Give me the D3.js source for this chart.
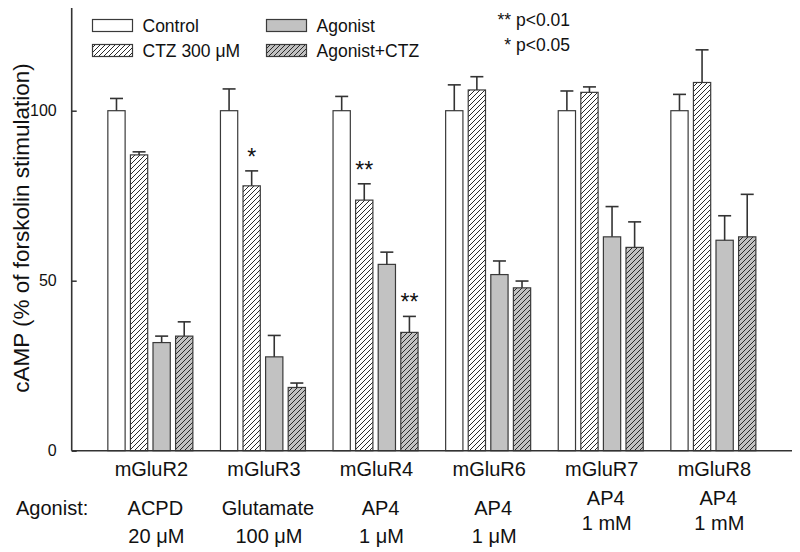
<!DOCTYPE html>
<html>
<head>
<meta charset="utf-8">
<script src="https://cdn.jsdelivr.net/npm/d3@7/dist/d3.min.js"></script>
<style>
  html, body { margin: 0; padding: 0; background: #fff; }
  svg { display: block; font-family: "Liberation Sans", Arial, sans-serif; }
</style>
</head>
<body>
<svg id="chart" width="800" height="552"></svg>
<script>
// ---- data ----
const categories = ["mGluR2", "mGluR3", "mGluR4", "mGluR6", "mGluR7", "mGluR8"];
const agonists = ["ACPD", "Glutamate", "AP4", "AP4", "AP4", "AP4"];
const concentrations = ["20 \u03BCM", "100 \u03BCM", "1 \u03BCM", "1 \u03BCM", "1 mM", "1 mM"];
const seriesNames = ["Control", "CTZ 300 \u03BCM", "Agonist", "Agonist+CTZ"];

const controlValues = [100, 100, 100, 100, 100, 100];
const controlErr    = [3.6, 6.4, 4.2, 7.6, 5.8, 4.8];
const ctzValues     = [87.0, 77.9, 73.7, 106.1, 105.4, 108.3];
const ctzErr        = [0.9, 4.4, 4.8, 3.9, 1.6, 9.6];
const agonistValues = [31.8, 27.6, 54.8, 51.8, 62.9, 61.9];
const agonistErr    = [1.9, 6.3, 3.6, 4.0, 8.9, 7.2];
const agCtzValues   = [33.7, 18.6, 34.8, 47.9, 59.8, 62.9];
const agCtzErr      = [4.2, 1.3, 4.7, 2.0, 7.5, 12.5];

const yTicks = [0, 50, 100];
const significance = [
  { category: "mGluR3", series: "CTZ 300 \u03BCM", label: "*" },
  { category: "mGluR4", series: "CTZ 300 \u03BCM", label: "**" },
  { category: "mGluR4", series: "Agonist+CTZ", label: "**" }
];
const sigLegend = ["** p<0.01", "* p<0.05"];

// ---- build table ----
const seriesValues = [controlValues, ctzValues, agonistValues, agCtzValues];
const seriesErrs = [controlErr, ctzErr, agonistErr, agCtzErr];
const bars = [];
categories.forEach((c, i) => {
  seriesNames.forEach((s, j) => {
    bars.push({ category: c, series: s, value: seriesValues[j][i], err: seriesErrs[j][i] });
  });
});

// ---- layout ----
const svg = d3.select("#chart");
const axisX = 71.7, plotTop = 8.7, plotBottom = 450.7, plotRight = 792;
const y = d3.scaleLinear().domain([0, 130]).range([plotBottom, plotTop]);
const x0 = d3.scaleBand().domain(categories).range([axisX, plotRight])
  .paddingInner(0.245).paddingOuter(0.321);
const x1 = d3.scaleBand().domain(seriesNames).range([0, x0.bandwidth()])
  .paddingInner(0.235).paddingOuter(0);

const GRAY = "#c2c2c2";
const STROKE = "#3a3a3a";
const fills = {
  "Control": "#ffffff",
  "CTZ 300 \u03BCM": "url(#hatchWhite)",
  "Agonist": GRAY,
  "Agonist+CTZ": "url(#hatchGray)"
};

// patterns
const defs = svg.append("defs");
function hatch(id, bg) {
  const p = defs.append("pattern").attr("id", id)
    .attr("patternUnits", "userSpaceOnUse").attr("width", 5).attr("height", 5);
  p.append("rect").attr("width", 5).attr("height", 5).attr("fill", bg);
  p.append("path").attr("d", "M-1,1 L1,-1 M0,5 L5,0 M4,6 L6,4")
    .attr("stroke", "#2a2a2a").attr("stroke-width", 1.0);
}
hatch("hatchWhite", "#ffffff");
hatch("hatchGray", GRAY);

// bars
const g = svg.append("g");
g.selectAll("rect.bar").data(bars).join("rect")
  .attr("class", "bar")
  .attr("x", d => x0(d.category) + x1(d.series))
  .attr("y", d => y(d.value))
  .attr("width", x1.bandwidth())
  .attr("height", d => y(0) - y(d.value))
  .attr("fill", d => fills[d.series])
  .attr("stroke", STROKE).attr("stroke-width", 1.2);

// error bars
const capHalf = 6.5;
const eb = g.selectAll("g.err").data(bars).join("g").attr("class", "err")
  .attr("stroke", "#333").attr("stroke-width", 1.6);
eb.append("line")
  .attr("x1", d => x0(d.category) + x1(d.series) + x1.bandwidth() / 2)
  .attr("x2", d => x0(d.category) + x1(d.series) + x1.bandwidth() / 2)
  .attr("y1", d => y(d.value))
  .attr("y2", d => y(d.value + d.err));
eb.append("line")
  .attr("x1", d => x0(d.category) + x1(d.series) + x1.bandwidth() / 2 - capHalf)
  .attr("x2", d => x0(d.category) + x1(d.series) + x1.bandwidth() / 2 + capHalf)
  .attr("y1", d => y(d.value + d.err))
  .attr("y2", d => y(d.value + d.err));

// significance stars
significance.forEach(s => {
  const b = bars.find(d => d.category === s.category && d.series === s.series);
  g.append("text")
    .attr("x", x0(b.category) + x1(b.series) + x1.bandwidth() / 2)
    .attr("y", y(b.value + b.err) - 6)
    .attr("text-anchor", "middle")
    .attr("font-size", 23).attr("fill", "#111")
    .text(s.label);
});

// y axis
const yAxis = d3.axisLeft(y).tickValues(yTicks).tickSizeInner(-5).tickSizeOuter(0).tickPadding(15);
const ya = svg.append("g").attr("transform", `translate(${axisX},0)`).call(yAxis);
ya.select(".domain").remove();
ya.selectAll(".tick line").attr("stroke", "#333").attr("stroke-width", 1.5);
ya.selectAll(".tick text").attr("font-size", 16).attr("fill", "#111")
  .attr("font-family", "Liberation Sans, Arial, sans-serif");
svg.append("line").attr("x1", axisX).attr("x2", axisX)
  .attr("y1", plotTop - 0.7).attr("y2", plotBottom)
  .attr("stroke", "#333").attr("stroke-width", 1.6);
// x axis line
svg.append("line").attr("x1", axisX).attr("x2", plotRight)
  .attr("y1", plotBottom).attr("y2", plotBottom)
  .attr("stroke", "#333").attr("stroke-width", 1.6);

// y label
svg.append("text")
  .attr("transform", "translate(21,228) rotate(-90)")
  .attr("text-anchor", "middle").attr("dominant-baseline", "central")
  .attr("font-size", 22.5).attr("fill", "#111")
  .text("cAMP (% of forskolin stimulation)");

// category labels
const labelFont = 20;
const lab = svg.append("g").attr("font-size", labelFont).attr("fill", "#111").attr("text-anchor", "middle");
categories.forEach((c, i) => {
  const cx = x0(c) + x0.bandwidth() / 2;
  const late = i >= 4;
  lab.append("text").attr("x", cx + 1).attr("y", 476).text(c);
  lab.append("text").attr("x", cx + 5).attr("y", late ? 505 : 515).text(agonists[i]);
  lab.append("text").attr("x", cx + 6).attr("y", late ? 530 : 543).text(concentrations[i]);
});
svg.append("text").attr("x", 16).attr("y", 515).attr("font-size", labelFont).attr("fill", "#111")
  .text("Agonist:");

// legend
const legend = svg.append("g").attr("font-size", 17.5).attr("fill", "#111");
const legPos = [[92.5, 19.5], [92.5, 44.5], [266.5, 19.5], [266.5, 44.5]];
seriesNames.forEach((s, i) => {
  const [lx, ly] = legPos[i];
  legend.append("rect").attr("x", lx).attr("y", ly).attr("width", 40).attr("height", 12)
    .attr("fill", fills[s]).attr("stroke", STROKE).attr("stroke-width", 1.2);
  legend.append("text").attr("x", lx + 50).attr("y", ly + 6)
    .attr("dominant-baseline", "central").text(s);
});
sigLegend.forEach((t, i) => {
  legend.append("text").attr("x", 570).attr("y", 26 + i * 24.5)
    .attr("text-anchor", "end").text(t);
});
</script>
</body>
</html>
